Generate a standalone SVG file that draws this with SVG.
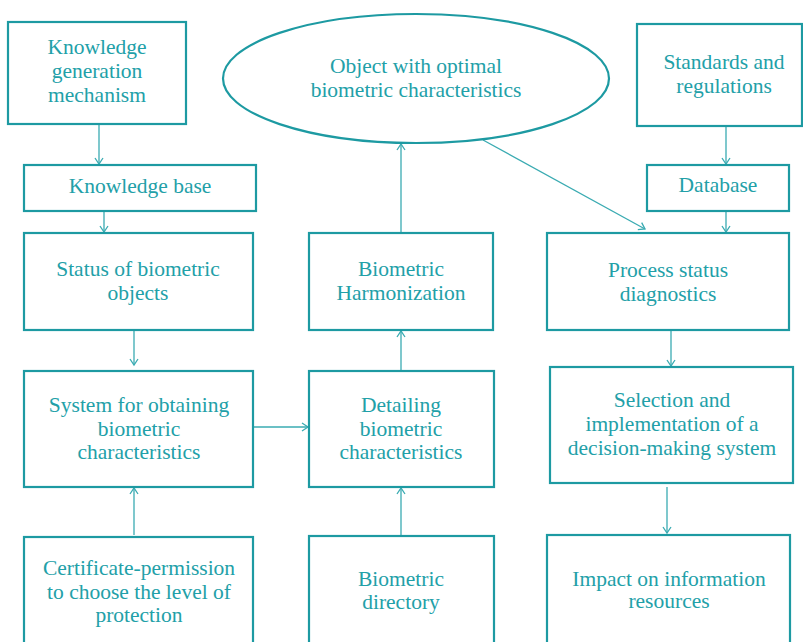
<svg xmlns="http://www.w3.org/2000/svg" width="803" height="642" viewBox="0 0 803 642">
<style>
.box{fill:#fff;stroke:#1d9aa2;stroke-width:2.2}
.t{font-family:"Liberation Serif","Times New Roman",serif;font-size:21.5px;fill:#22a0a8;text-anchor:middle}
.c{stroke:#3aabb2;stroke-width:1.3;fill:none;marker-end:url(#ah)}
</style>
<defs>
<marker id="ah" markerUnits="userSpaceOnUse" markerWidth="12" markerHeight="12" refX="8" refY="5" orient="auto">
<path d="M2,1 L8,5 L2,9" fill="none" stroke="#3aabb2" stroke-width="1.3"/>
</marker>
</defs>
<rect width="803" height="642" fill="#fff"/>
<g id="connectors">
<line class="c" x1="99" y1="124" x2="99" y2="164"/>
<line class="c" x1="104" y1="211" x2="104" y2="232"/>
<line class="c" x1="134" y1="330" x2="134" y2="365"/>
<line class="c" x1="134" y1="535" x2="134" y2="488"/>
<line class="c" x1="253" y1="427" x2="308" y2="427"/>
<line class="c" x1="401" y1="371" x2="401" y2="331"/>
<line class="c" x1="401" y1="536" x2="401" y2="488"/>
<line class="c" x1="401" y1="233" x2="401" y2="144"/>
<line class="c" x1="483" y1="140" x2="645" y2="229"/>
<line class="c" x1="726" y1="126" x2="726" y2="164"/>
<line class="c" x1="726" y1="211" x2="726" y2="232"/>
<line class="c" x1="671" y1="330" x2="671" y2="366"/>
<line class="c" x1="667" y1="487" x2="667" y2="533"/>
</g>
<g id="knowledge-generation">
<rect class="box" x="8" y="22" width="178" height="102"/>
<text class="t" x="97" y="54">Knowledge</text>
<text class="t" x="97" y="78">generation</text>
<text class="t" x="97" y="102">mechanism</text>
</g>
<g id="knowledge-base">
<rect class="box" x="24" y="165" width="232" height="46"/>
<text class="t" x="140" y="193">Knowledge base</text>
</g>
<g id="optimal-object">
<ellipse class="box" cx="416" cy="78.5" rx="193" ry="64.5"/>
<text class="t" x="416" y="73">Object with optimal</text>
<text class="t" x="416" y="97">biometric characteristics</text>
</g>
<g id="standards">
<rect class="box" x="637" y="24" width="165" height="102"/>
<text class="t" x="724" y="69">Standards and</text>
<text class="t" x="724" y="93">regulations</text>
</g>
<g id="database">
<rect class="box" x="647" y="165" width="142" height="46"/>
<text class="t" x="718" y="192">Database</text>
</g>
<g id="status-objects">
<rect class="box" x="24" y="233" width="229" height="97"/>
<text class="t" x="138" y="276">Status of biometric</text>
<text class="t" x="138" y="300">objects</text>
</g>
<g id="harmonization">
<rect class="box" x="309" y="233" width="184" height="97"/>
<text class="t" x="401" y="276">Biometric</text>
<text class="t" x="401" y="300">Harmonization</text>
</g>
<g id="process-diagnostics">
<rect class="box" x="547" y="233" width="242" height="97"/>
<text class="t" x="668" y="277">Process status</text>
<text class="t" x="668" y="301">diagnostics</text>
</g>
<g id="obtaining-system">
<rect class="box" x="24" y="371" width="229" height="116"/>
<text class="t" x="139" y="412">System for obtaining</text>
<text class="t" x="139" y="436">biometric</text>
<text class="t" x="139" y="459">characteristics</text>
</g>
<g id="detailing">
<rect class="box" x="309" y="371" width="185" height="116"/>
<text class="t" x="401" y="412">Detailing</text>
<text class="t" x="401" y="436">biometric</text>
<text class="t" x="401" y="459">characteristics</text>
</g>
<g id="decision-system">
<rect class="box" x="550" y="367" width="243" height="116"/>
<text class="t" x="672" y="407">Selection and</text>
<text class="t" x="672" y="431">implementation of a</text>
<text class="t" x="672" y="455">decision-making system</text>
</g>
<g id="certificate">
<rect class="box" x="24" y="537" width="229" height="110"/>
<text class="t" x="139" y="575">Certificate-permission</text>
<text class="t" x="139" y="599">to choose the level of</text>
<text class="t" x="139" y="622">protection</text>
</g>
<g id="directory">
<rect class="box" x="309" y="536" width="185" height="110"/>
<text class="t" x="401" y="586">Biometric</text>
<text class="t" x="401" y="609">directory</text>
</g>
<g id="impact">
<rect class="box" x="547" y="535" width="243" height="110"/>
<text class="t" x="669" y="586">Impact on information</text>
<text class="t" x="669" y="608">resources</text>
</g>
</svg>
